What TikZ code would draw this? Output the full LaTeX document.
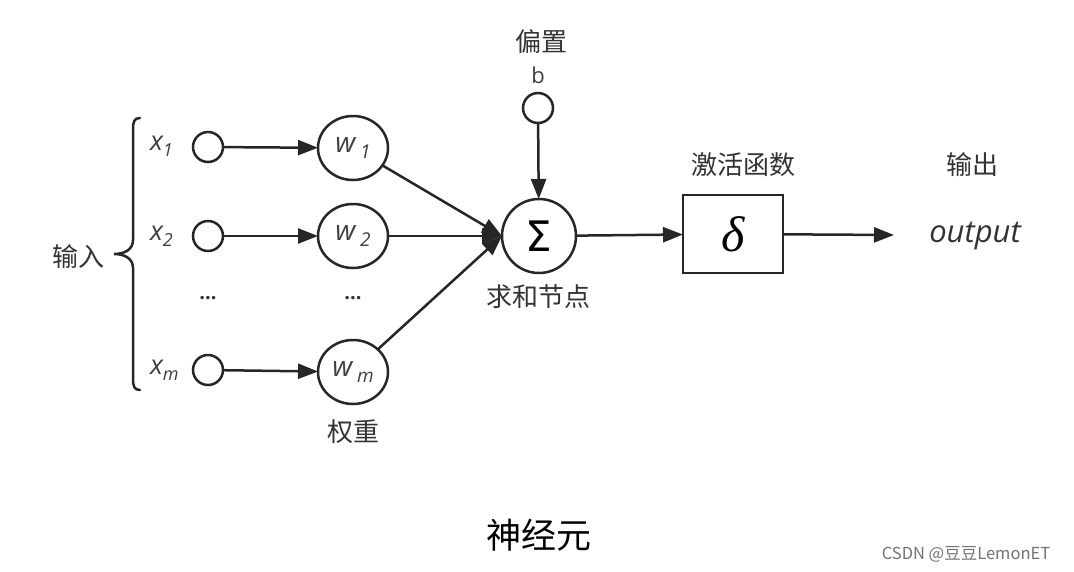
\documentclass[tikz,border=0pt]{standalone}
\usepackage{fontspec}
\setmainfont{Open Sans}
\newfontfamily\cjk{Noto Sans CJK SC}
\newfontfamily\sig{DejaVu Sans}
\newfontfamily\grk{Liberation Serif}
\usetikzlibrary{arrows.meta,shapes.geometric}
\begin{document}
\begin{tikzpicture}[x=1pt,y=-1pt,
  every node/.style={inner sep=0pt,outer sep=0pt},
  ln/.style={line width=2.5pt,draw=black!85},
  arr/.style={ln,-{Triangle[length=20pt,width=15pt]}},
  incirc/.style={circle,ln,minimum size=30pt},
  wcirc/.style={ellipse,ln,minimum width=70pt,minimum height=64pt},
  cn/.style={font=\cjk\fontsize{26}{26}\selectfont,text=black!80},
  var/.style={font=\itshape\fontsize{27}{27}\selectfont,text=black!75},
  dots/.style={font=\bfseries\fontsize{20}{20}\selectfont,text=black!80}
]
\useasboundingbox (0,0) rectangle (1074,571);
\fill[white] (0,0) rectangle (1074,571);
% brace
\draw[ln,line cap=round]
  (140,118) .. controls (134,118) and (133,122) .. (133,130)
  -- (133,240) .. controls (133,250) and (124,254) .. (114,254)
  .. controls (124,254) and (133,258) .. (133,268)
  -- (133,378) .. controls (133,386) and (134,390) .. (140,390);
\node[cn] (inlab) at (78,257) {输入};
% input labels
\node[var,anchor=west] (x1) at (150,146) {x\raisebox{-0.4ex}{\fontsize{18}{18}\selectfont 1}};
\node[var,anchor=west] (x2) at (150,236) {x\raisebox{-0.4ex}{\fontsize{18}{18}\selectfont 2}};
\node[var,anchor=west] (xm) at (150,370) {x\raisebox{-0.4ex}{\fontsize{18}{18}\selectfont m}};
% input circles
\node[incirc] (c1) at (208,147) {};
\node[incirc] (c2) at (208,236) {};
\node[incirc] (cm) at (208,370) {};
\node[dots] (d1) at (208,298) {...};
% weights
\node[wcirc] (w1) at (353,148) {\fontsize{28}{28}\selectfont\itshape\color{black!75}w\,\raisebox{-0.45ex}{\fontsize{19}{19}\selectfont 1}};
\node[wcirc] (w2) at (353,236) {\fontsize{28}{28}\selectfont\itshape\color{black!75}w\,\raisebox{-0.45ex}{\fontsize{19}{19}\selectfont 2}};
\node[wcirc] (wm) at (353,372) {\fontsize{28}{28}\selectfont\itshape\color{black!75}w\,\raisebox{-0.45ex}{\fontsize{19}{19}\selectfont m}};
\node[dots] (d2) at (353,298) {...};
\node[cn] (wlab) at (353,432) {权重};
% sum
\node[circle,ln,minimum size=74pt] (sum) at (539,236) {\sig\fontsize{42}{42}\selectfont Σ};
\node[cn] (sumlab) at (538,297) {求和节点};
% bias
\node[incirc] (b) at (538,108) {};
\node[font=\fontsize{22}{22}\selectfont,text=black!75] (blab) at (538,75) {b};
\node[cn] (biaslab) at (541,42) {偏置};
% activation
\node[draw,ln,minimum width=100pt,minimum height=78pt] (act) at (733,234) {\grk\itshape\fontsize{50}{50}\selectfont δ};
\node[cn] (actlab) at (743,165) {激活函数};
% output
\coordinate (oend) at (894,235);
\node[font=\itshape\fontsize{31}{31}\selectfont,text=black!80] (out) at (975,236) {output};
\node[cn] (outlab) at (972,165) {输出};
% title
\node[font=\cjk\fontsize{35}{35}\selectfont] (title) at (539,535) {神经元};
\node[font=\cjk\fontsize{16.5}{16.5}\selectfont,text=black!55] (wm2) at (966,554) {CSDN @豆豆LemonET};
% connectors
\draw[arr] (c1) -- (w1);
\draw[arr] (c2) -- (w2);
\draw[arr] (cm) -- (wm);
\draw[arr] (w1) -- (sum.west);
\draw[arr] (w2) -- (sum.west);
\draw[arr] (wm) -- (sum.west);
\draw[arr] (b) -- (sum);
\draw[arr] (sum) -- (act);
\draw[arr] (act) -- (oend);
\end{tikzpicture}
\end{document}
